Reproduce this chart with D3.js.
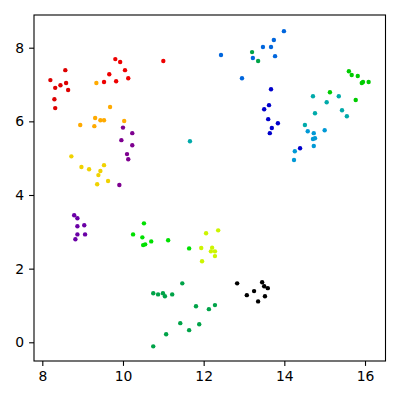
<!DOCTYPE html>
<html>
<head>
<meta charset="utf-8">
<script src="https://cdn.jsdelivr.net/npm/d3@7"></script>
<style>
  html, body { margin: 0; padding: 0; background: #fff; }
  svg { display: block; }
  text { font-family: "DejaVu Sans", sans-serif; }
</style>
</head>
<body>
<svg id="chart" width="400" height="400"></svg>
<script>
// ---- data ----
const clusterColors = [
  "#000000", // 0 black
  "#7e0090", // 1 purple
  "#6a00a6", // 2 dark purple
  "#0000cc", // 3 dark blue
  "#0066dd", // 4 medium blue
  "#0099d6", // 5 light blue
  "#00aaaa", // 6 teal
  "#00a348", // 7 green
  "#00e000", // 8 bright green
  "#00cc00", // 9 green (right)
  "#ccf500", // 10 yellow-green
  "#f0d200", // 11 yellow
  "#ffaa00", // 12 orange
  "#dd0000", // 13 red
  "#ee0000"  // 14 red 2
];

const xTicks = [8, 10, 12, 14, 16];
const yTicks = [0, 2, 4, 6, 8];

const pointX = [
  8.20, 8.57, 8.32, 8.45, 8.59, 8.64, 8.30, 8.32,
  9.81, 9.93, 9.66, 10.05, 10.13, 9.53, 9.83, 11.00,
  9.34, 9.68, 9.31, 9.44, 9.53, 8.94, 9.29, 10.03,
  10.00, 10.23, 9.96, 10.23, 10.10, 10.13, 9.91,
  8.72, 8.97, 9.16, 9.53, 9.44, 9.39, 9.63, 9.36,
  8.79, 8.87, 8.87, 9.04, 8.87, 9.06, 8.82,
  10.52, 10.25, 10.48, 10.70, 10.50, 10.55, 11.12, 11.64,
  12.06, 12.36, 11.94, 12.21, 12.18, 12.28, 12.28, 11.96,
  11.47, 10.75, 10.87, 10.99, 11.04, 11.22, 11.81, 12.13, 12.28, 11.42, 11.89, 11.64, 11.07, 10.75, 13.20, 13.35,
  12.83, 13.07, 13.25, 13.35, 13.45, 13.50, 13.59, 13.52,
  13.67, 13.62, 13.50, 13.60, 13.84, 13.69, 13.64, 14.39,
  13.99, 13.74, 13.67, 13.47, 13.77, 12.43, 13.22, 12.95,
  14.71, 15.05, 15.35, 15.43, 15.55, 14.76, 14.51, 11.66,
  14.58, 15.00, 14.73, 14.71, 14.76, 14.73, 14.26, 14.24,
  15.60, 15.67, 15.82, 16.09, 15.92, 15.95, 15.13, 15.77
];

const pointY = [
  7.12, 7.39, 6.91, 6.98, 7.04, 6.85, 6.60, 6.36,
  7.69, 7.61, 7.28, 7.39, 7.17, 7.07, 7.09, 7.64,
  7.04, 6.39, 6.09, 6.03, 6.03, 5.90, 5.87, 6.01,
  5.83, 5.68, 5.49, 5.35, 5.11, 4.97, 4.27,
  5.05, 4.76, 4.70, 4.81, 4.65, 4.54, 4.38, 4.29,
  3.45, 3.37, 3.15, 3.18, 2.93, 2.93, 2.80,
  3.23, 2.93, 2.85, 2.74, 2.64, 2.66, 2.77, 2.55,
  2.96, 3.04, 2.56, 2.57, 2.47, 2.47, 2.34, 2.20,
  1.60, 1.33, 1.30, 1.33, 1.25, 1.30, 0.98, 0.90, 1.01, 0.52, 0.49, 0.33, 0.22, -0.11, 7.88, 7.64,
  1.60, 1.28, 1.39, 1.11, 1.63, 1.52, 1.47, 1.25,
  6.87, 6.44, 6.33, 6.06, 5.95, 5.82, 5.68, 5.27,
  8.45, 8.21, 8.02, 8.02, 7.77, 7.80, 7.72, 7.17,
  6.68, 6.52, 6.68, 6.30, 6.14, 6.22, 5.90, 5.46,
  5.73, 5.76, 5.68, 5.52, 5.54, 5.33, 5.19, 4.95,
  7.36, 7.26, 7.23, 7.07, 7.04, 7.07, 6.79, 6.58
];

const pointLabel = [
  13,13,13,13,13,13,13,13,
  14,14,14,14,14,14,14,14,
  12,12,12,12,12,12,12,12,
  1,1,1,1,1,1,1,
  11,11,11,11,11,11,11,11,
  2,2,2,2,2,2,2,
  8,8,8,8,8,8,8,8,
  10,10,10,10,10,10,10,10,
  7,7,7,7,7,7,7,7,7,7,7,7,7,7,7,7,
  0,0,0,0,0,0,0,0,
  3,3,3,3,3,3,3,3,
  4,4,4,4,4,4,4,4,
  6,6,6,6,6,6,6,6,
  5,5,5,5,5,5,5,5,
  9,9,9,9,9,9,9,9
];

// ---- layout ----
const plotLeft = 34, plotTop = 15, plotRight = 385.5, plotBottom = 361;
const svg = d3.select("#chart");

const x = d3.scaleLinear().domain([7.794, 16.508]).range([plotLeft, plotRight]);
const y = d3.scaleLinear().domain([-0.508, 8.888]).range([plotBottom, plotTop]);

const points = pointX.map((v, i) => ({ x: v, y: pointY[i], c: pointLabel[i] }));

svg.append("g")
  .selectAll("circle")
  .data(points)
  .enter().append("circle")
  .attr("cx", d => x(d.x))
  .attr("cy", d => y(d.y))
  .attr("r", 2.2)
  .attr("fill", d => clusterColors[d.c]);

const fontSize = "13.9px";
const xAxis = svg.append("g")
  .attr("transform", `translate(0,${plotBottom})`)
  .call(d3.axisBottom(x).tickValues(xTicks).tickFormat(d3.format("d")).tickSize(4.9).tickPadding(5).tickSizeOuter(0));
const yAxis = svg.append("g")
  .attr("transform", `translate(${plotLeft},0)`)
  .call(d3.axisLeft(y).tickValues(yTicks).tickFormat(d3.format("d")).tickSize(4.9).tickPadding(5).tickSizeOuter(0));

[xAxis, yAxis].forEach(a => {
  a.select(".domain").remove();
  a.selectAll("line").attr("stroke", "#000").attr("stroke-width", 1.1);
  a.selectAll("text").attr("fill", "#000").style("font-size", fontSize).style("font-family", "'DejaVu Sans', sans-serif");
});

svg.append("rect")
  .attr("x", plotLeft).attr("y", plotTop)
  .attr("width", plotRight - plotLeft).attr("height", plotBottom - plotTop)
  .attr("fill", "none").attr("stroke", "#000").attr("stroke-width", 1.1);
</script>
</body>
</html>
